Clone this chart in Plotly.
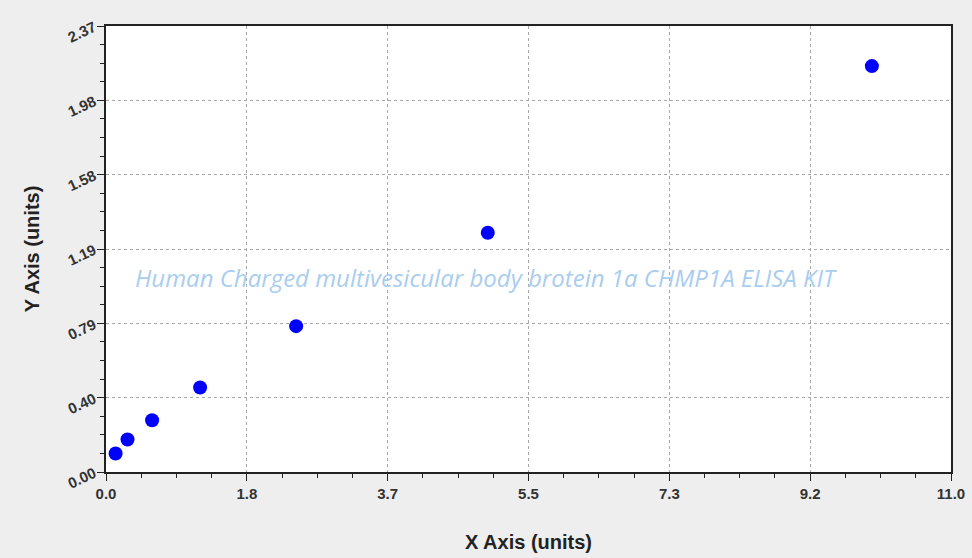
import plotly.graph_objects as go

x_vals = [0.125, 0.28, 0.60, 1.225, 2.475, 4.97, 9.97]
y_vals = [0.098, 0.173, 0.275, 0.449, 0.775, 1.271, 2.157]

x_tick_vals = [0, 11/6, 11/3, 5.5, 22/3, 55/6, 11]
x_tick_text = ["0.0", "1.8", "3.7", "5.5", "7.3", "9.2", "11.0"]
y_tick_vals = [0, 0.395, 0.79, 1.185, 1.58, 1.975, 2.37]
y_tick_text = ["0.00", "0.40", "0.79", "1.19", "1.58", "1.98", "2.37"]

watermark = "Human Charged multivesicular body brotein 1a CHMP1A ELISA KIT"

fig = go.Figure()
fig.add_trace(go.Scatter(
    x=x_vals, y=y_vals, mode="markers",
    marker=dict(color="#0000ff", size=14, line=dict(width=0)),
    showlegend=False, hoverinfo="x+y",
))

axis_common = dict(
    showline=True, linecolor="#222222", linewidth=1.5, mirror=True,
    showgrid=True, gridcolor="#a8a8a8", griddash="3px,3px", gridwidth=1,
    zeroline=False, ticks="outside", ticklen=7, tickcolor="#222222",
    tickfont=dict(family="Liberation Sans, Arial", size=15, color="#333333", weight="bold"),
    automargin=False,
)

fig.update_layout(
    width=972, height=558,
    margin=dict(l=106, r=21, t=26, b=86),
    paper_bgcolor="#eeeeee", plot_bgcolor="#ffffff",
    xaxis=dict(
        range=[0, 11], tickvals=x_tick_vals, ticktext=x_tick_text,
        minor=dict(dtick=11/24, tick0=0, ticks="outside", ticklen=4, tickcolor="#222222", showgrid=False),
        title=dict(text="<b>X Axis (units)</b>", font=dict(family="Liberation Sans, Arial", size=20, color="#222222"), standoff=34),
        **axis_common,
    ),
    yaxis=dict(
        range=[0, 2.37], tickvals=y_tick_vals, ticktext=y_tick_text, tickangle=-25,
        minor=dict(dtick=2.37/24, tick0=0, ticks="outside", ticklen=4, tickcolor="#222222", showgrid=False),
        title=dict(text="<b>Y Axis (units)</b>", font=dict(family="Liberation Sans, Arial", size=20, color="#222222"), standoff=20),
        **axis_common,
    ),
    annotations=[dict(
        text=watermark, x=0.45, y=0.437, xref="paper", yref="paper",
        showarrow=False,
        font=dict(family="Open Sans", size=24, color="#a9cdef", style="italic"),
    )],
)

fig.write_html("out.html", config={"displayModeBar": False},
               post_script="document.body.style.margin='0';document.body.style.padding='0';")
